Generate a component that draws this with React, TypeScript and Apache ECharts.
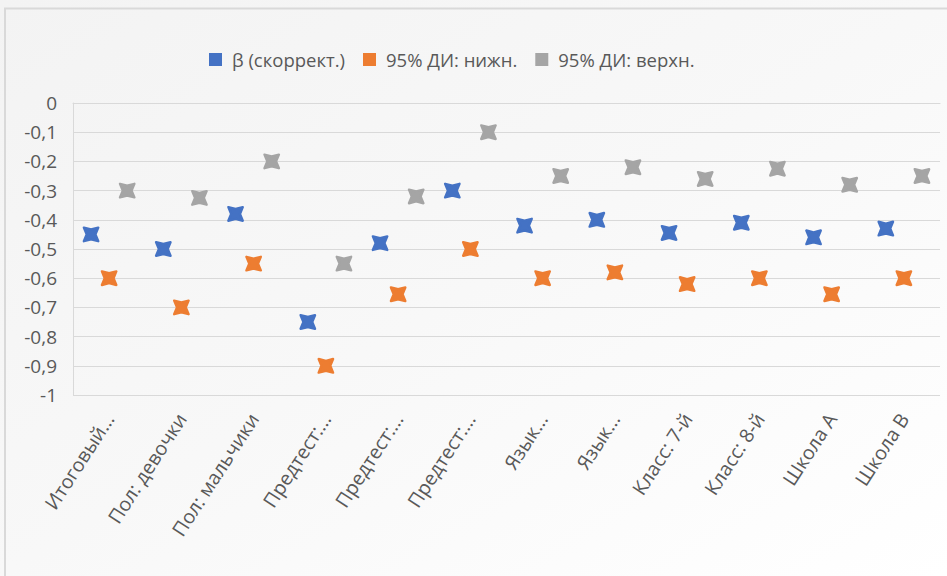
import React, { useEffect, useRef } from "react";
import * as echarts from "echarts";

const categories = [
  "Итоговый...",
  "Пол: девочки",
  "Пол: мальчики",
  "Предтест:...",
  "Предтест:...",
  "Предтест:...",
  "Язык...",
  "Язык...",
  "Класс: 7-й",
  "Класс: 8-й",
  "Школа А",
  "Школа В",
];

const betaAdjusted = [-0.45, -0.5, -0.38, -0.75, -0.48, -0.3, -0.42, -0.4, -0.445, -0.41, -0.46, -0.43];
const ciLower = [-0.6, -0.7, -0.55, -0.9, -0.655, -0.5, -0.6, -0.58, -0.62, -0.6, -0.655, -0.6];
const ciUpper = [-0.3, -0.325, -0.2, -0.55, -0.32, -0.1, -0.25, -0.22, -0.26, -0.225, -0.28, -0.25];

const seriesNames = ["β (скоррект.)", "95% ДИ: нижн.", "95% ДИ: верхн."];
const seriesColors = ["#4472C4", "#ED7D31", "#A5A5A5"];
const seriesOffsets = [-0.25, 0, 0.25];

const FONT = "'Open Sans', 'Noto Sans', sans-serif";

// Fat "x" marker, drawn around the point (cx, cy)
function crossPoints(cx: number, cy: number) {
  const w = 7.2;
  const h = 6.8;
  return [
    [cx - w, cy - h],
    [cx, cy - h + 1.8],
    [cx + w, cy - h],
    [cx + w - 2.8, cy],
    [cx + w, cy + h],
    [cx, cy + h - 1.8],
    [cx - w, cy + h],
    [cx - w + 2.8, cy],
  ];
}

function makeSeries(idx: number, values: number[]) {
  return {
    type: "custom",
    name: seriesNames[idx],
    itemStyle: { color: seriesColors[idx] },
    data: values.map((v, i) => [i, v]),
    encode: { x: 0, y: 1 },
    renderItem: (params: any, api: any) => {
      const c = api.coord([api.value(0), api.value(1)]);
      const band = api.size([1, 0])[0];
      const x = c[0] + seriesOffsets[idx] * band;
      return {
        type: "polygon",
        shape: { points: crossPoints(x, c[1]) },
        style: {
          fill: seriesColors[idx],
          stroke: seriesColors[idx],
          lineWidth: 2.4,
          lineJoin: "round",
        },
      };
    },
  };
}

export default function App() {
  const ref = useRef<HTMLDivElement>(null);

  useEffect(() => {
    if (!ref.current) return;
    const chart = echarts.init(ref.current, null, { renderer: "svg" });
    chart.setOption({
      animation: false,
      backgroundColor: {
        type: "linear",
        x: 0,
        y: 0,
        x2: 1,
        y2: 1,
        colorStops: [
          { offset: 0, color: "#f3f3f3" },
          { offset: 0.5, color: "#f8f8f8" },
          { offset: 1, color: "#ffffff" },
        ],
      },
      graphic: [
        {
          type: "rect",
          shape: { x: 5, y: 8.5, width: 960, height: 600 },
          style: { fill: "none", stroke: "#d9d9d9", lineWidth: 2 },
          silent: true,
        },
      ],
      legend: {
        top: 45,
        left: 204,
        icon: "rect",
        itemWidth: 13,
        itemHeight: 13,
        itemGap: 18,
        textStyle: { fontFamily: FONT, fontSize: 18.5, color: "#595959", padding: [0, 0, 0, 5] },
        data: seriesNames,
      },
      grid: { left: 73, right: 7, top: 103, bottom: 181, containLabel: false },
      xAxis: {
        type: "category",
        data: categories,
        axisLine: { show: true, lineStyle: { color: "#d9d9d9", width: 1 } },
        axisTick: { show: false },
        splitLine: { show: false },
        axisLabel: {
          interval: 0,
          rotate: 57,
          margin: 20,
          fontFamily: FONT,
          fontSize: 19.5,
          color: "#595959",
        },
      },
      yAxis: {
        type: "value",
        min: -1,
        max: 0,
        interval: 0.1,
        axisLine: { show: true, lineStyle: { color: "#d9d9d9", width: 1 } },
        axisTick: { show: false },
        splitLine: { show: true, lineStyle: { color: "#d9d9d9", width: 1 } },
        axisLabel: {
          margin: 16,
          fontFamily: FONT,
          fontSize: 19,
          color: "#595959",
          formatter: (v: number) => {
            const r = Math.round(v * 10) / 10;
            if (Number.isInteger(r)) return String(r === 0 ? 0 : r);
            return r.toFixed(1).replace(".", ",");
          },
        },
      },
      series: [
        makeSeries(0, betaAdjusted),
        makeSeries(1, ciLower),
        makeSeries(2, ciUpper),
      ],
    });
    return () => chart.dispose();
  }, []);

  return (
    <div
      ref={ref}
      style={{ position: "fixed", left: 0, top: 0, width: 947, height: 576 }}
    />
  );
}
